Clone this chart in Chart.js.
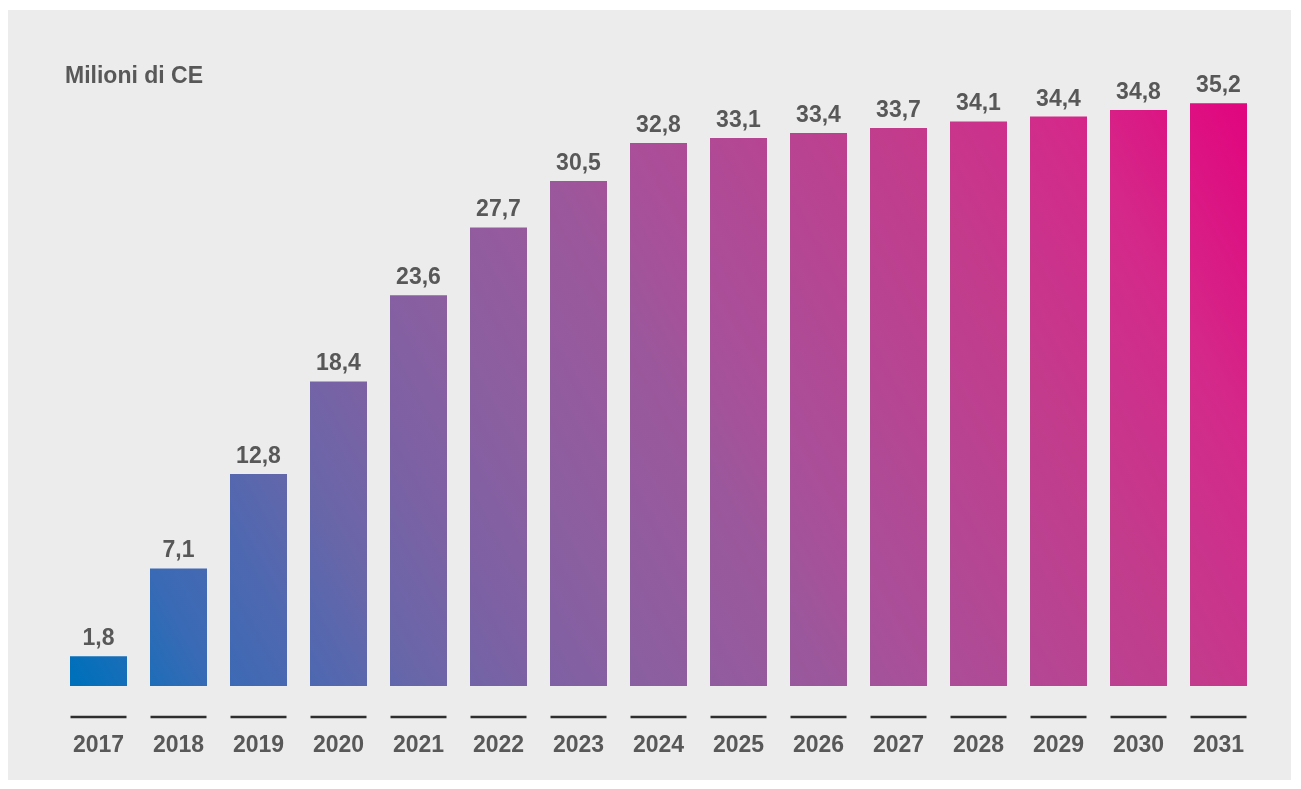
<!DOCTYPE html>
<html>
<head>
<meta charset="utf-8">
<script src="https://cdn.jsdelivr.net/npm/chart.js@4"></script>
<style>
  html, body { margin: 0; padding: 0; background: #ffffff; }
  #wrap { position: relative; width: 1301px; height: 789px; }
</style>
</head>
<body>
<div id="wrap"><canvas id="chart" width="1301" height="789"></canvas></div>
<script>
// dati del grafico
const years = ['2017', '2018', '2019', '2020', '2021', '2022', '2023', '2024', '2025', '2026', '2027', '2028', '2029', '2030', '2031'];
const values = [1.8, 7.1, 12.8, 18.4, 23.6, 27.7, 30.5, 32.8, 33.1, 33.4, 33.7, 34.1, 34.4, 34.8, 35.2];
const unitLabel = 'Milioni di CE';

const textColor = '#585858';
const fontFamily = '"Liberation Sans", Arial, sans-serif';

// sfondo grigio del pannello
const panelPlugin = {
    id: 'panel',
    beforeDraw(chart) {
        const ctx = chart.ctx;
        ctx.save();
        ctx.fillStyle = '#ececec';
        ctx.fillRect(8, 10, 1283, 770);
        ctx.fillStyle = textColor;
        ctx.font = 'bold 23px ' + fontFamily;
        ctx.textBaseline = 'alphabetic';
        ctx.fillText(unitLabel, 65, 83);
        ctx.restore();
    }
};

// etichette dei valori sopra le barre + linee sotto
const labelsPlugin = {
    id: 'valueLabels',
    afterDatasetsDraw(chart) {
        const ctx = chart.ctx;
        const meta = chart.getDatasetMeta(0);
        ctx.save();
        ctx.fillStyle = textColor;
        ctx.font = 'bold 23px ' + fontFamily;
        ctx.textAlign = 'center';
        ctx.textBaseline = 'alphabetic';
        meta.data.forEach((bar, i) => {
            const txt = values[i].toFixed(1).replace('.', ',');
            ctx.fillText(txt, bar.x, bar.y - 11);
        });
        // linee sopra gli anni
        ctx.strokeStyle = '#2e2e2e';
        ctx.lineWidth = 2.5;
        meta.data.forEach((bar) => {
            ctx.beginPath();
            ctx.moveTo(bar.x - 28, 717);
            ctx.lineTo(bar.x + 28, 717);
            ctx.stroke();
        });
        ctx.restore();
    }
};

function barGradient(context) {
    const chart = context.chart;
    const area = chart.chartArea;
    if (!area) return '#8a5c9f';
    const g = chart.ctx.createLinearGradient(area.left + 21.5, area.bottom, area.right - 21.5, area.top);
    g.addColorStop(0, '#0070bb');
    g.addColorStop(0.09, '#3a6ab5');
    g.addColorStop(0.16, '#4f68b0');
    g.addColorStop(0.23, '#6a66a8');
    g.addColorStop(0.3, '#7c61a4');
    g.addColorStop(0.38, '#8b5fa0');
    g.addColorStop(0.5, '#9c579b');
    g.addColorStop(0.55, '#a8509a');
    g.addColorStop(0.74, '#c23c8c');
    g.addColorStop(0.86, '#d4298a');
    g.addColorStop(0.97, '#e0097f');
    g.addColorStop(1, '#e3057e');
    return g;
}

const ctx = document.getElementById('chart').getContext('2d');
new Chart(ctx, {
    type: 'bar',
    data: {
        labels: years,
        datasets: [{
            data: values,
            backgroundColor: barGradient,
            borderWidth: 0,
            barPercentage: 0.7125,
            categoryPercentage: 1
        }]
    },
    options: {
        responsive: false,
        animation: false,
        layout: {
            padding: { left: 58.5, right: 42.5, top: 47, bottom: 0 }
        },
        plugins: {
            legend: { display: false },
            tooltip: { enabled: false }
        },
        scales: {
            x: {
                grid: { display: false, drawTicks: false },
                border: { display: false },
                ticks: {
                    color: textColor,
                    font: { family: fontFamily, size: 23, weight: 'bold' },
                    padding: 46,
                    maxRotation: 0
                },
                afterFit(scale) {
                    scale.height = 103;
                }
            },
            y: {
                display: false,
                min: 0,
                max: 38.6
            }
        }
    },
    plugins: [panelPlugin, labelsPlugin]
});
</script>
</body>
</html>
